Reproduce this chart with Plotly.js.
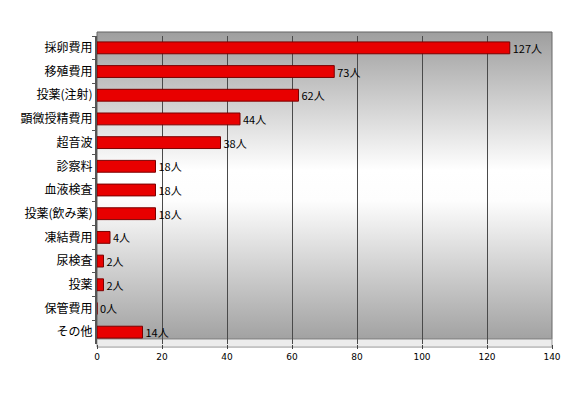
<!DOCTYPE html>
<html>
<head>
<meta charset="utf-8">
<script src="https://cdn.plot.ly/plotly-3.0.1.min.js"></script>
<style>html,body{margin:0;padding:0;background:#fff;}#chart{width:569px;height:394px;}</style>
</head>
<body>
<div id="chart"></div>
<script>
const categories = ["採卵費用","移殖費用","投薬(注射)","顕微授精費用","超音波","診察料","血液検査","投薬(飲み薬)","凍結費用","尿検査","投薬","保管費用","その他"];
const values = [127, 73, 62, 44, 38, 18, 18, 18, 4, 2, 2, 0, 14];
const xTicks = [0, 20, 40, 60, 80, 100, 120, 140];
const unit = "人";

const grad = 'data:image/svg+xml;utf8,' + encodeURIComponent(
  '<svg xmlns="http://www.w3.org/2000/svg" width="100" height="100" preserveAspectRatio="none">' +
  '<defs><linearGradient id="g" x1="0" y1="0" x2="0" y2="1">' +
  '<stop offset="0" stop-color="#9e9e9e"/><stop offset="0.45" stop-color="#ffffff"/>' +
  '<stop offset="0.55" stop-color="#fdfdfd"/><stop offset="1" stop-color="#a2a2a2"/>' +
  '</linearGradient></defs><rect width="100" height="100" fill="url(#g)"/></svg>');

const trace = {
  type: 'bar',
  orientation: 'h',
  y: categories,
  x: values,
  width: 0.5,
  marker: {color: '#e80000', line: {color: '#7a0000', width: 1}},
  text: values.map(v => v + unit),
  textposition: 'outside',
  constraintext: 'none',
  cliponaxis: false,
  textfont: {family: '"Noto Sans CJK JP", sans-serif', size: 11, color: '#000'},
  hoverinfo: 'none'
};

const layout = {
  width: 569, height: 394,
  margin: {l: 97, r: 17, t: 36, b: 50},
  paper_bgcolor: '#ffffff',
  plot_bgcolor: 'rgba(0,0,0,0)',
  showlegend: false,
  bargap: 0.5,
  uniformtext: {mode: false},
  xaxis: {
    range: [0, 140], tickvals: xTicks, ticktext: xTicks.map(String),
    showgrid: true, gridcolor: '#4a4a4a', gridwidth: 1,
    zeroline: false, showline: false,
    ticks: 'outside', ticklen: 4, tickcolor: '#444',
    tickfont: {family: '"DejaVu Sans", sans-serif', size: 9, color: '#000'}
  },
  yaxis: {
    type: 'category', autorange: 'reversed',
    showgrid: false, zeroline: false,
    showline: true, linecolor: '#555', linewidth: 2,
    ticks: 'outside', tickson: 'boundaries', ticklen: 3, tickcolor: '#555',
    tickfont: {family: '"Noto Sans CJK JP", sans-serif', size: 12, color: '#000'}
  },
  images: [{
    source: grad, xref: 'paper', yref: 'paper',
    x: 0, y: 1.013, sizex: 1, sizey: 0.997,
    sizing: 'stretch', xanchor: 'left', yanchor: 'top', layer: 'below'
  }],
  shapes: [
    {type: 'rect', xref: 'paper', yref: 'paper', x0: 0, x1: 1, y0: 0.016, y1: 1.013,
     line: {color: '#666', width: 1}, fillcolor: 'rgba(0,0,0,0)', layer: 'below'},
    {type: 'rect', xref: 'paper', yref: 'paper', x0: 0, x1: 1, y0: -0.01, y1: 0.016,
     line: {color: '#999', width: 1}, fillcolor: '#ececec', layer: 'below'}
  ]
};

Plotly.newPlot('chart', [trace], layout, {displayModeBar: false, staticPlot: true});
</script>
</body>
</html>
